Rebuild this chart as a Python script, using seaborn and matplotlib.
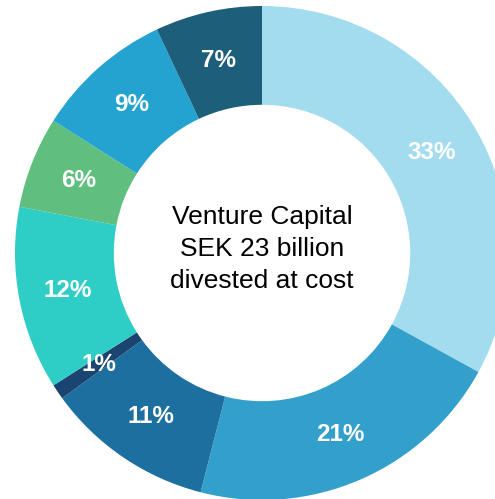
import matplotlib
matplotlib.use("Agg")
import seaborn as sns
from matplotlib import pyplot as plt

# Slice shares, clockwise from 12 o'clock
shares = [33, 21, 11, 1, 12, 6, 9, 7]
labels = ["33%", "21%", "11%", "1%", "12%", "6%", "9%", "7%"]
colors = ["#a3dcef", "#33a0cc", "#1d6f9f", "#1b4471",
          "#2ecdc6", "#60bf7e", "#24a3d0", "#1d5f7a"]
center_text = "Venture Capital\nSEK 23 billion\ndivested at cost"

sns.set_theme(style="white")
plt.rcParams["font.family"] = ["Liberation Sans", "DejaVu Sans"]

fig = plt.figure(figsize=(4.95, 4.99), dpi=100)
ax = fig.add_axes([0, 0, 1, 1])

palette = sns.color_palette(colors)
wedges, texts = ax.pie(shares, colors=palette, startangle=90, counterclock=False,
                       radius=1.0, wedgeprops=dict(width=0.4, linewidth=0),
                       labels=labels, labeldistance=0.8,
                       textprops=dict(color="white", fontsize=17.5, fontweight="bold",
                                      ha="center", va="center"))

ax.text(0, 0.016, center_text, ha="center", va="center", fontsize=19,
        color="black", linespacing=1.42)

# centre at (262, 253) px, radius 247 px
ax.set_xlim(-262 / 247, (495 - 262) / 247)
ax.set_ylim(-(499 - 253) / 247, 253 / 247)
ax.set_aspect("auto")
ax.axis("off")

fig.savefig("out.png", dpi=100)
